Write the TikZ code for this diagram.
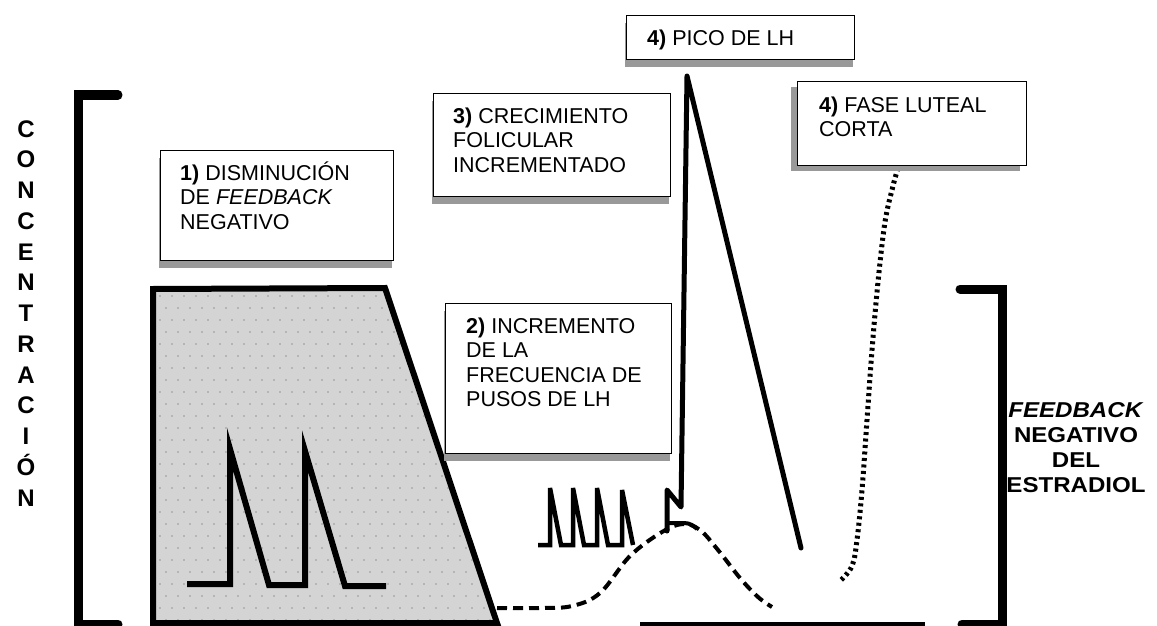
\documentclass[tikz,border=0pt]{standalone}
\usepackage{fontspec}
\setmainfont{Liberation Sans}
\newfontfamily\lblfont{Liberation Sans}[FakeStretch=1.12]
\definecolor{areagray}{RGB}{212,212,212}
\definecolor{stipple}{RGB}{150,150,150}
\definecolor{shadowgray}{RGB}{153,153,153}
\tikzset{
  bracket/.style={line width=9pt, line cap=round, line join=miter},
  textbox/.style={draw=black, line width=1.3pt, fill=white, inner sep=0pt, anchor=north west},
  boxtext/.style={anchor=north west, inner sep=0pt, align=left, font=\fontsize{21.5}{24.5}\selectfont},
  shadowbox/.style={fill=shadowgray, draw=none},
  pulse/.style={line width=6pt, line join=miter, line cap=butt},
  smallpulse/.style={line width=4.5pt, line join=miter, line cap=butt},
  lhline/.style={line width=5pt, line join=round, line cap=round},
  estradiol/.style={line width=4pt, dash pattern=on 10pt off 6pt},
  luteal/.style={line width=5pt, dash pattern=on 3pt off 3.5pt},
}
\begin{document}
\begin{tikzpicture}[x=1pt,y=-1pt]
\useasboundingbox (0,0) rectangle (1157,626);

% gray area of negative feedback
\fill[areagray] (153,289) -- (385,288) -- (497,623) -- (153,623) -- cycle;
\begin{scope}
  \clip (153,289) -- (385,288) -- (497,623) -- (153,623) -- cycle;
  \foreach \row in {0,...,27} {
    \foreach \col in {0,...,29} {
      \pgfmathsetmacro{\xx}{160+\col*12+mod(\row,2)*6}
      \pgfmathsetmacro{\yy}{296+\row*12}
      \fill[stipple] (\xx,\yy) circle (0.8pt);
    }
  }
\end{scope}
\draw[line width=6pt, line join=miter] (153,289) -- (385,288) -- (497,623) -- (153,623) -- cycle;

% pulses inside the gray area
\draw[pulse] (187,584) -- (230,584) -- (230,449) -- (269,585) -- (305,585) -- (305,451) -- (345,586) -- (386,586);

% brackets
\draw[bracket] (118,95) -- (78,95) -- (78,624) -- (118,624);
\draw[bracket] (960,289) -- (1002,289) -- (1002,624) -- (962,624);

% bottom axis
\draw[line width=5pt] (640,624) -- (925,624);

% high-frequency pulses
\draw[smallpulse] (538,545) -- (550,545) -- (550,488) -- (561,545) -- (573,545) -- (573,488) -- (584,545) -- (597,545) -- (597,488) -- (608,545) -- (622,545) -- (622,490) -- (633,545);

% estradiol (dashed)
\draw[estradiol] plot[smooth, tension=0.6] coordinates {(497,608) (540,608) (572,606) (600,593) (630,556) (662,532) (683,524) (700,530) (718,550) (740,578) (758,597) (772,607)};

% LH surge
\draw[lhline] (667,531) -- (667,490) -- (681,507) -- (687,76) -- (801,548);
\draw[line width=4pt] (668,523) -- (684,523) .. controls (690,523) and (694,526) .. (697,529);

% luteal phase (dotted)
\draw[luteal] plot[smooth, tension=0.6] coordinates {(898,168) (893,186) (885,222) (878,282) (872,350) (867,420) (862,490) (857,540) (852,566) (840,581)};

% text boxes with shadows
\fill[shadowbox] (159,158) rectangle (392,268);
\node[textbox, minimum width=233pt, minimum height=110pt] (b1) at (160,150) {};
\node[boxtext] (t1) at (180,160) {\rule{0pt}{20pt}\textbf{1)} DISMINUCIÓN\\DE \textit{FEEDBACK}\\NEGATIVO};

\fill[shadowbox] (444,311) rectangle (670,461);
\node[textbox, minimum width=226pt, minimum height=150pt] (b2) at (445,303) {};
\node[boxtext] (t2) at (466,313) {\rule{0pt}{20pt}\textbf{2)} INCREMENTO\\DE LA\\FRECUENCIA DE\\PUSOS DE LH};

\fill[shadowbox] (432,101) rectangle (669,204);
\node[textbox, minimum width=237pt, minimum height=103pt] (b3) at (433,93) {};
\node[boxtext] (t3) at (453,103) {\rule{0pt}{20pt}\textbf{3)} CRECIMIENTO\\FOLICULAR\\INCREMENTADO};

\fill[shadowbox] (625,23) rectangle (853,67);
\node[textbox, minimum width=228pt, minimum height=44pt] (b4) at (626,15) {};
\node[boxtext] (t4) at (647,25) {\rule{0pt}{20pt}\textbf{4)} PICO DE LH};

\fill[shadowbox] (791,87) rectangle (1020,171);
\node[textbox, minimum width=229pt, minimum height=84pt] (b5) at (797,81) {};
\node[boxtext] (t5) at (819,92) {\rule{0pt}{20pt}\textbf{4)} FASE LUTEAL\\CORTA};

% axis labels
\node[font=\fontsize{24}{30.75}\selectfont\bfseries, align=center, anchor=north, inner sep=0pt] (conc) at (26,117)
  {\rule{0pt}{20pt}C\\O\\N\\C\\E\\N\\T\\R\\A\\C\\I\\Ó\\N};
\node[font=\fontsize{21.5}{25}\lblfont\bfseries, align=center, anchor=north, inner sep=0pt] (fb) at (1076,397)
  {\rule{0pt}{20pt}\textit{FEEDBACK}\\NEGATIVO\\DEL\\ESTRADIOL};
\end{tikzpicture}
\end{document}
